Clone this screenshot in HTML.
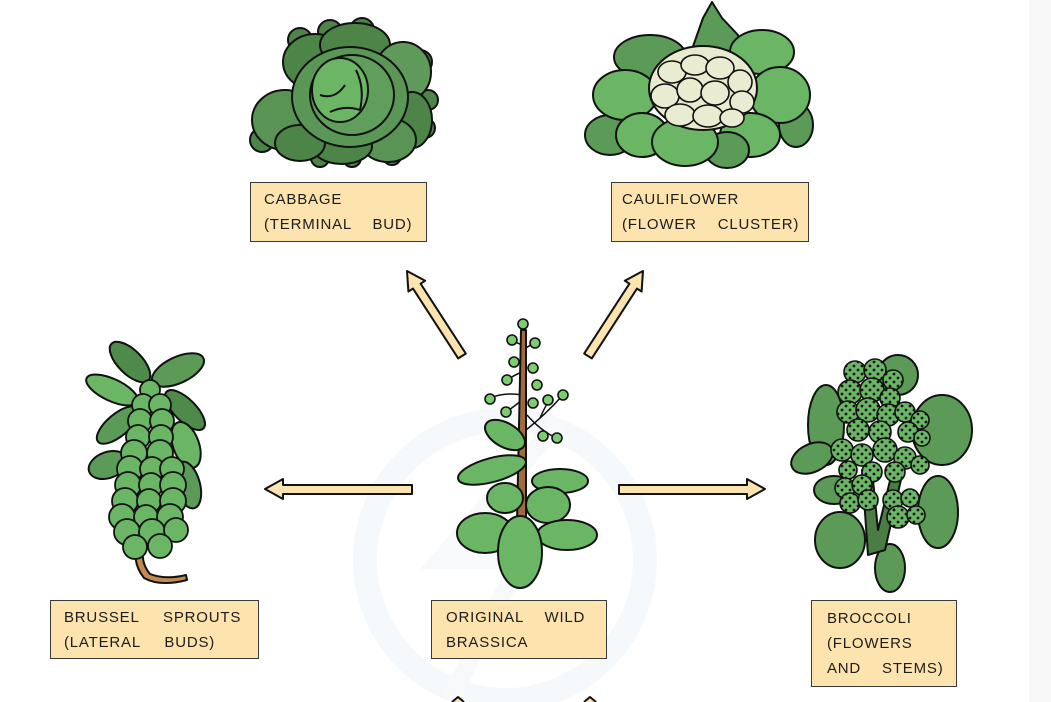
<!DOCTYPE html>
<html><head><meta charset="utf-8">
<style>
html,body{margin:0;padding:0;background:#fff;}
#wrap{position:relative;width:1051px;height:702px;overflow:hidden;background:#fff;}
#strip{position:absolute;left:1029px;top:0;width:22px;height:702px;background:#f8f8f8;}
svg{position:absolute;left:0;top:0;}
.box{position:absolute;background:#fde3ae;border:1.5px solid #3a3a3a;box-sizing:border-box;
 font-family:"Liberation Sans",sans-serif;font-size:15px;color:#1c1c1c;line-height:25px;
 letter-spacing:0.8px;word-spacing:16px;white-space:nowrap;padding-top:4px;}
</style></head><body>
<div id="wrap">
<div id="strip"></div>
<svg width="1051" height="702" viewBox="0 0 1051 702" xmlns="http://www.w3.org/2000/svg">
<defs>
<pattern id="dots" width="8" height="8" patternUnits="userSpaceOnUse">
<circle cx="2" cy="2" r="1.4" fill="#111"/><circle cx="6" cy="6" r="1.4" fill="#111"/>
</pattern>
</defs>
<!-- watermark -->
<circle cx="505" cy="560" r="140" fill="none" stroke="#f6f9fc" stroke-width="24"/>
<path d="M560 420 L440 560 L520 560 L450 700" fill="none" stroke="#f7f9fb" stroke-width="18"/>

<g stroke="#111" stroke-width="2" stroke-linejoin="round">
<!-- arrows -->
<polygon points="265,489 283,479 283,485 412,485 412,494 283,494 283,499" fill="#fde3ae"/>
<polygon points="765,489 747,479 747,485 619,485 619,494 747,494 747,499" fill="#fde3ae"/>
<polygon points="407,271 425.2,280.7 420.6,283.7 465.8,353.6 458.2,358.4 413,288.6 408.4,291.5" fill="#fde3ae"/>
<polygon points="643,271 624.8,280.7 629.4,283.7 584.2,353.6 591.8,358.4 637,288.6 641.6,291.5" fill="#fde3ae"/>
<polyline points="452,702 458,697 464,702" fill="#fde3ae"/>
<polyline points="584,702 590,697 596,702" fill="#fde3ae"/>

<!-- CABBAGE -->
<g fill="#4d8549">
<circle cx="270" cy="118" r="16"/><circle cx="262" cy="140" r="12"/>
<circle cx="300" cy="40" r="12"/><circle cx="330" cy="32" r="12"/><circle cx="362" cy="30" r="12"/>
<circle cx="420" cy="62" r="12"/><circle cx="428" cy="100" r="10"/><circle cx="425" cy="128" r="10"/>
<circle cx="320" cy="158" r="9"/><circle cx="352" cy="158" r="9"/><circle cx="392" cy="156" r="9"/>
</g>
<ellipse cx="285" cy="120" rx="33" ry="30" fill="#5a9455"/>
<ellipse cx="315" cy="62" rx="32" ry="28" fill="#4d8549"/>
<ellipse cx="355" cy="45" rx="35" ry="22" fill="#4d8549"/>
<ellipse cx="403" cy="72" rx="28" ry="30" fill="#5f9a5a"/>
<ellipse cx="412" cy="120" rx="20" ry="28" fill="#4d8549"/>
<ellipse cx="388" cy="140" rx="28" ry="22" fill="#5a9455"/>
<ellipse cx="342" cy="146" rx="30" ry="18" fill="#4d8549"/>
<ellipse cx="300" cy="143" rx="25" ry="18" fill="#4d8549"/>
<ellipse cx="350" cy="97" rx="58" ry="50" fill="#5a9656"/>
<ellipse cx="352" cy="95" rx="42" ry="40" fill="#609e5b"/>
<ellipse cx="340" cy="90" rx="28" ry="32" fill="#6cb564"/>
<path d="M320 95 Q335 100 345 85 M330 112 Q345 105 360 110 M356 70 Q365 88 360 110" fill="none"/>

<!-- CAULIFLOWER -->
<path d="M690 55 L703 18 L712 2 L722 18 L738 35 L748 62 Z" fill="#5b9a57"/>
<ellipse cx="650" cy="57" rx="36" ry="22" fill="#5b9a57"/>
<ellipse cx="762" cy="52" rx="32" ry="22" fill="#6ab665"/>
<ellipse cx="796" cy="125" rx="17" ry="22" fill="#5b9a57"/>
<ellipse cx="610" cy="135" rx="25" ry="20" fill="#5b9a57"/>
<ellipse cx="625" cy="95" rx="32" ry="25" fill="#6ab665"/>
<ellipse cx="780" cy="95" rx="30" ry="28" fill="#6ab665"/>
<ellipse cx="750" cy="135" rx="30" ry="22" fill="#6ab665"/>
<ellipse cx="727" cy="150" rx="22" ry="18" fill="#5b9a57"/>
<ellipse cx="642" cy="135" rx="26" ry="22" fill="#6ab665"/>
<ellipse cx="685" cy="142" rx="33" ry="24" fill="#6ab665"/>
<ellipse cx="703" cy="88" rx="54" ry="42" fill="#e8ebcf"/>
<g fill="#e9ecd1" stroke-width="1.6">
<ellipse cx="672" cy="72" rx="14" ry="11"/><ellipse cx="695" cy="65" rx="14" ry="10"/>
<ellipse cx="720" cy="68" rx="14" ry="11"/><ellipse cx="740" cy="82" rx="12" ry="12"/>
<ellipse cx="665" cy="96" rx="14" ry="12"/><ellipse cx="690" cy="90" rx="13" ry="12"/>
<ellipse cx="715" cy="93" rx="14" ry="12"/><ellipse cx="742" cy="102" rx="12" ry="11"/>
<ellipse cx="680" cy="115" rx="15" ry="11"/><ellipse cx="708" cy="116" rx="15" ry="11"/>
<ellipse cx="732" cy="118" rx="12" ry="9"/>
</g>

<!-- BRUSSEL SPROUTS -->
<ellipse cx="130" cy="362" rx="26" ry="12" transform="rotate(45 130 362)" fill="#4e8a4a"/>
<ellipse cx="178" cy="370" rx="28" ry="13" transform="rotate(-25 178 370)" fill="#5c9a58"/>
<ellipse cx="112" cy="390" rx="28" ry="11" transform="rotate(25 112 390)" fill="#6ab665"/>
<ellipse cx="185" cy="410" rx="26" ry="11" transform="rotate(45 185 410)" fill="#4e8a4a"/>
<ellipse cx="118" cy="425" rx="26" ry="11" transform="rotate(-40 118 425)" fill="#5c9a58"/>
<ellipse cx="186" cy="445" rx="13" ry="24" transform="rotate(-20 186 445)" fill="#6ab665"/>
<ellipse cx="108" cy="465" rx="20" ry="13" transform="rotate(-20 108 465)" fill="#5c9a58"/>
<ellipse cx="188" cy="485" rx="12" ry="24" transform="rotate(-15 188 485)" fill="#5c9a58"/>
<path d="M146 540 Q138 560 150 574 Q166 580 186 575 L187 580 Q160 587 144 578 Q130 560 139 540 Z" fill="#c08a50"/>
<g fill="#6ab665" stroke-width="1.8">
<circle cx="150" cy="390" r="10"/>
<circle cx="143" cy="405" r="11"/><circle cx="160" cy="405" r="11"/>
<circle cx="140" cy="421" r="12"/><circle cx="162" cy="421" r="12"/>
<circle cx="138" cy="437" r="12"/><circle cx="161" cy="437" r="12"/>
<circle cx="134" cy="453" r="13"/><circle cx="160" cy="453" r="13"/>
<circle cx="130" cy="469" r="13"/><circle cx="152" cy="469" r="12"/><circle cx="172" cy="469" r="12"/>
<circle cx="128" cy="485" r="13"/><circle cx="151" cy="485" r="12"/><circle cx="173" cy="485" r="13"/>
<circle cx="125" cy="501" r="13"/><circle cx="149" cy="501" r="12"/><circle cx="173" cy="501" r="13"/>
<circle cx="122" cy="517" r="13"/><circle cx="146" cy="517" r="12"/><circle cx="170" cy="517" r="13"/>
<circle cx="127" cy="532" r="13"/><circle cx="152" cy="532" r="13"/><circle cx="176" cy="530" r="12"/>
<circle cx="135" cy="547" r="12"/><circle cx="160" cy="546" r="12"/>
</g>

<!-- ORIGINAL WILD BRASSICA -->
<g fill="none" stroke-width="1.5">
<path d="M523 330 L522 320"/>
<path d="M522 395 Q505 392 490 398 M522 400 Q510 410 505 412 M526 430 Q545 415 563 395 M540 418 Q548 400 552 398 M527 415 Q540 430 556 438 M522 372 Q512 376 508 380 M523 350 Q530 345 535 343 M522 345 Q515 342 512 340"/>
</g>
<polygon points="517,522 526,522 526,330 521,330" fill="#a06b3a"/>
<g fill="#7ecb71" stroke-width="1.6">
<circle cx="523" cy="324" r="5"/><circle cx="512" cy="340" r="5"/><circle cx="535" cy="343" r="5"/>
<circle cx="514" cy="362" r="5"/><circle cx="533" cy="368" r="5"/><circle cx="507" cy="380" r="5"/>
<circle cx="537" cy="385" r="5"/><circle cx="490" cy="399" r="5"/><circle cx="506" cy="412" r="5"/>
<circle cx="533" cy="403" r="5"/><circle cx="548" cy="400" r="5"/><circle cx="563" cy="395" r="5"/>
<circle cx="543" cy="436" r="5"/><circle cx="557" cy="438" r="5"/>
</g>
<g fill="#6ab665">
<ellipse cx="505" cy="435" rx="22" ry="12" transform="rotate(30 505 435)"/>
<ellipse cx="492" cy="470" rx="35" ry="12" transform="rotate(-15 492 470)"/>
<ellipse cx="560" cy="481" rx="28" ry="12"/>
<ellipse cx="505" cy="498" rx="18" ry="15"/>
<ellipse cx="548" cy="505" rx="22" ry="18"/>
<ellipse cx="485" cy="533" rx="28" ry="20"/>
<ellipse cx="567" cy="535" rx="30" ry="15"/>
<ellipse cx="520" cy="552" rx="22" ry="36"/>
</g>

<!-- BROCCOLI -->
<g fill="#5c9a58">
<ellipse cx="826" cy="425" rx="18" ry="40"/>
<ellipse cx="812" cy="458" rx="22" ry="14" transform="rotate(-25 812 458)"/>
<ellipse cx="834" cy="490" rx="20" ry="14"/>
<ellipse cx="840" cy="540" rx="25" ry="28"/>
<ellipse cx="898" cy="375" rx="20" ry="20"/>
<ellipse cx="942" cy="430" rx="30" ry="35"/>
<ellipse cx="938" cy="512" rx="20" ry="36"/>
<ellipse cx="890" cy="568" rx="15" ry="24"/>
</g>
<path d="M868 555 L862 470 L872 470 L878 530 L895 460 L905 462 L885 550 Z" fill="#4a7d44"/>
<g fill="#6ab665" stroke-width="1.6"><g id="flo">
<circle cx="855" cy="372" r="11"/><circle cx="875" cy="370" r="11"/><circle cx="893" cy="380" r="10"/>
<circle cx="850" cy="392" r="12"/><circle cx="872" cy="390" r="12"/><circle cx="890" cy="398" r="10"/>
<circle cx="848" cy="412" r="11"/><circle cx="868" cy="410" r="12"/><circle cx="888" cy="415" r="11"/>
<circle cx="858" cy="430" r="11"/><circle cx="880" cy="432" r="11"/>
<circle cx="905" cy="412" r="10"/><circle cx="920" cy="420" r="9"/><circle cx="908" cy="432" r="10"/><circle cx="922" cy="438" r="8"/>
<circle cx="842" cy="450" r="11"/><circle cx="862" cy="455" r="11"/><circle cx="885" cy="450" r="12"/>
<circle cx="905" cy="458" r="11"/><circle cx="920" cy="465" r="9"/><circle cx="848" cy="470" r="9"/>
<circle cx="872" cy="472" r="10"/><circle cx="895" cy="472" r="10"/>
<circle cx="845" cy="488" r="10"/><circle cx="862" cy="485" r="10"/><circle cx="850" cy="503" r="10"/><circle cx="868" cy="500" r="10"/>
<circle cx="893" cy="500" r="10"/><circle cx="910" cy="498" r="9"/><circle cx="898" cy="517" r="11"/><circle cx="916" cy="515" r="9"/>
</g></g>
<use href="#flo" fill="url(#dots)" stroke="none"/>
</g>
</svg>

<div class="box" style="left:250px;top:182px;width:177px;height:60px;padding-left:13px;">CABBAGE<br>(TERMINAL BUD)</div>
<div class="box" style="left:611px;top:182px;width:198px;height:60px;padding-left:10px;">CAULIFLOWER<br>(FLOWER CLUSTER)</div>
<div class="box" style="left:50px;top:600px;width:209px;height:59px;padding-left:13px;word-spacing:19px;">BRUSSEL SPROUTS<br>(LATERAL BUDS)</div>
<div class="box" style="left:431px;top:600px;width:176px;height:59px;padding-left:14px;">ORIGINAL WILD<br>BRASSICA</div>
<div class="box" style="left:811px;top:600px;width:146px;height:87px;padding-left:15px;padding-top:5px;">BROCCOLI<br>(FLOWERS<br>AND STEMS)</div>
</div>
</body></html>
